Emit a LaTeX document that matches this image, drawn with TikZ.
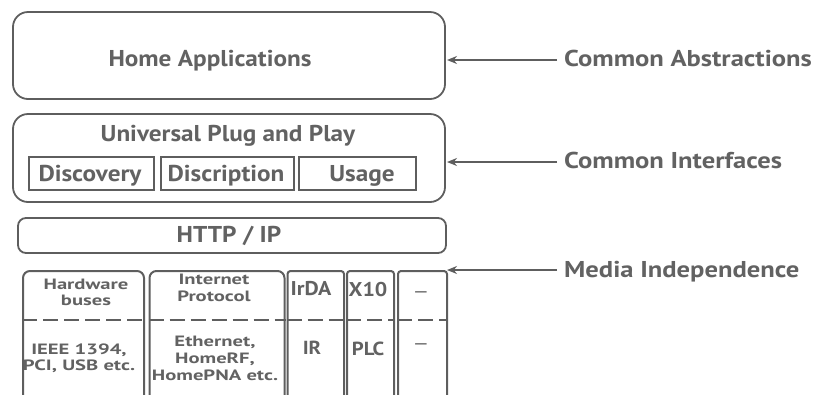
\documentclass[tikz,border=0pt]{standalone}
\usepackage{fontspec}
\setmainfont{PT Sans}
\newfontfamily\mainf[FakeStretch=1.1]{PT Sans}
\newfontfamily\sidef[FakeStretch=1.16]{PT Sans}
\newfontfamily\smf[FakeStretch=1.38]{PT Sans}
\usetikzlibrary{arrows.meta}
\definecolor{ln}{HTML}{5E5E5E}
\definecolor{tx}{HTML}{626262}
\tikzset{
  big/.style={draw=ln, line width=1.8bp, rounded corners=15bp, inner sep=0pt},
  inner/.style={draw=ln, line width=1.6bp, inner sep=0pt},
  col/.style={draw=ln, line width=2bp, rounded corners=7bp, inner sep=0pt, anchor=north west, minimum height=150bp},
  lbl/.style={text=tx, font=\mainf\bfseries\fontsize{23}{26}\selectfont, inner sep=0pt, anchor=base},
  side/.style={text=tx, font=\sidef\bfseries\fontsize{23}{26}\selectfont, inner sep=0pt, anchor=base west},
  sm/.style={text=tx, font=\smf\bfseries\fontsize{15}{16}\selectfont, inner sep=0pt, anchor=base},
  md/.style={text=tx, font=\mainf\bfseries\fontsize{20}{24}\selectfont, inner sep=0pt, anchor=base},
  arr/.style={draw=ln, line width=2bp, -{Stealth[length=10bp,width=8bp]}},
  sep/.style={draw=ln, line width=2bp, dash pattern=on 15bp off 6bp}
}
\begin{document}
\begin{tikzpicture}[x=1bp,y=-1bp]
\useasboundingbox (0,0) rectangle (816,394);
\clip (0,0) rectangle (816,394);
% top layers
\node[big, minimum width=432bp, minimum height=87bp] (ha) at (229,55.5) {};
\node[lbl] (hat) at (210,66) {Home Applications};
\node[big, minimum width=432bp, minimum height=88bp] (up) at (229,158) {};
\node[lbl] (upt) at (228,141) {Universal Plug and Play};
\node[inner, minimum width=125bp, minimum height=33bp] (disc) at (91.5,173.5) {};
\node[lbl] (disct) at (90,181) {Discovery};
\node[inner, minimum width=133bp, minimum height=33bp] (descr) at (227.5,173.5) {};
\node[lbl] (descrt) at (226,181) {Discription};
\node[inner, minimum width=117bp, minimum height=33bp] (use) at (357.5,173.5) {};
\node[lbl] (uset) at (362,181) {Usage};
\node[big, rounded corners=8bp, minimum width=428bp, minimum height=35bp] (http) at (232,235.5) {};
\node[lbl] (httpt) at (229,242) {HTTP / IP};
% bottom columns
\node[col, minimum width=121bp] (hw) at (22,270) {};
\node[col, minimum width=135bp] (ip) at (148.5,270) {};
\node[col, minimum width=56.5bp, rounded corners=3bp] (irda) at (286.5,270) {};
\node[col, minimum width=47bp, rounded corners=3bp] (x10) at (346,270) {};
\node[col, minimum width=49bp, rounded corners=3bp] (dots) at (397,270) {};
\foreach \b in {hw,ip,irda,x10,dots}{
  \draw[sep] (\b.west |- 0,320) -- (\b.east |- 0,320);
}
\node[sm] (hw1) at (86,289) {Hardware};
\node[sm] (hw2) at (86,305) {buses};
\node[sm] (hw3) at (79,354) {IEEE 1394,};
\node[sm] (hw4) at (79,370) {PCI, USB etc.};
\node[sm] (ip1) at (214,284) {Internet};
\node[sm] (ip2) at (214,301) {Protocol};
\node[sm] (ip3) at (215,346) {Ethernet,};
\node[sm] (ip4) at (215,363) {HomeRF,};
\node[sm] (ip5) at (215,380) {HomePNA etc.};
\node[md] (ir1) at (311,295) {IrDA};
\node[md, font=\mainf\bfseries\fontsize{19}{22}\selectfont] (ir2) at (312,354) {IR};
\node[md] (xt1) at (368,296) {X10};
\node[md, font=\mainf\bfseries\fontsize{19}{22}\selectfont] (xt2) at (368,355) {PLC};
\node[sm, font=\mainf\fontsize{18}{20}\selectfont] (dt1) at (421,297) {—};
\node[sm, font=\mainf\fontsize{18}{20}\selectfont] (dt2) at (421,349) {—};
% labels and arrows
\node[side] (ca) at (564,66) {Common Abstractions};
\node[side] (ci) at (564,168) {Common Interfaces};
\node[side] (mi) at (564,277) {Media Independence};
\coordinate (ca0) at (557,60);
\coordinate (ci0) at (557,162);
\coordinate (mi0) at (557,270);
\draw[arr] (ca0) -- (ca0 -| 447,0);
\draw[arr] (ci0) -- (ci0 -| 447,0);
\draw[arr] (mi0) -- (mi0 -| 447,0);
\end{tikzpicture}
\end{document}
